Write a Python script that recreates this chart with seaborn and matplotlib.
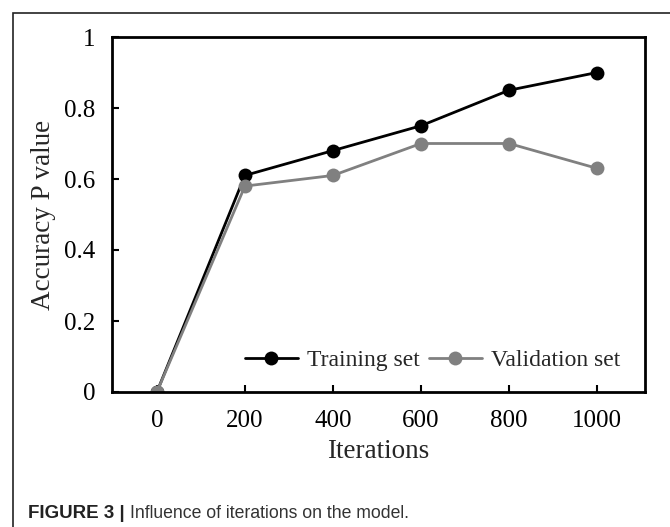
import pandas as pd
import matplotlib
matplotlib.use("Agg")
import matplotlib.pyplot as plt
import matplotlib.patches as mpatches
import seaborn as sns

iterations = [0, 200, 400, 600, 800, 1000]
training_acc = [0.0, 0.61, 0.68, 0.75, 0.85, 0.90]
validation_acc = [0.0, 0.58, 0.61, 0.70, 0.70, 0.63]
x_ticks = [0, 200, 400, 600, 800, 1000]
y_ticks = [0, 0.2, 0.4, 0.6, 0.8, 1.0]
y_tick_labels = ["0", "0.2", "0.4", "0.6", "0.8", "1"]

sns.set_style("white")
plt.rcParams["font.family"] = ["Liberation Serif", "DejaVu Serif"]

df = pd.DataFrame({
    "Iterations": iterations * 2,
    "acc": training_acc + validation_acc,
    "set": ["Training set"] * len(iterations) + ["Validation set"] * len(iterations),
})

fig = plt.figure(figsize=(6.7, 5.27), dpi=100)
# 축 위치: 픽셀 기준 (left 112, right 645, top 37, bottom 392)
ax = fig.add_axes([112 / 670, 135 / 527, 533 / 670, 355 / 527])

sns.lineplot(
    data=df, x="Iterations", y="acc", hue="set",
    palette={"Training set": "#000000", "Validation set": "#808080"},
    marker="o", markersize=10, markeredgewidth=0, linewidth=2,
    ax=ax,
)

ax.set_xlim(-102, 1109)
ax.set_ylim(0, 1)
ax.set_xticks(x_ticks)
ax.set_yticks(y_ticks)
ax.set_yticklabels(y_tick_labels)
ax.tick_params(axis="both", direction="in", length=5, width=1.5, labelsize=18,
               colors="black", bottom=True, left=True, top=False, right=False)
ax.tick_params(axis="x", pad=13)
ax.tick_params(axis="y", pad=12)
for s in ax.spines.values():
    s.set_visible(True)
    s.set_color("black")
    s.set_linewidth(2)

ax.set_xlabel("Iterations", fontsize=19.5, labelpad=5)
ax.set_ylabel("Accuracy P value", fontsize=19.5, labelpad=6)

ax.legend(loc="center right", ncol=2, frameon=False, fontsize=17,
          handlelength=2.25, handletextpad=0.38, columnspacing=0.38,
          borderaxespad=0, borderpad=0, bbox_to_anchor=(0.953, 0.09))

# 바깥 패널 테두리와 캡션
fig.patches.append(mpatches.Rectangle((13 / 670, -0.1), 1.0, 1 - 13 / 527 + 0.1,
                                      transform=fig.transFigure, fill=False,
                                      edgecolor="#222222", linewidth=1.2))
fig.text(28 / 670, 14 / 527, "FIGURE 3 |", fontsize=13.5, fontweight="bold", va="center",
         family=["Liberation Sans", "DejaVu Sans"], color="#222222")
fig.text(130 / 670, 14 / 527, "Influence of iterations on the model.", fontsize=12.7, va="center",
         family=["Liberation Sans", "DejaVu Sans"], color="#333333")

fig.savefig("out.png", dpi=100)
